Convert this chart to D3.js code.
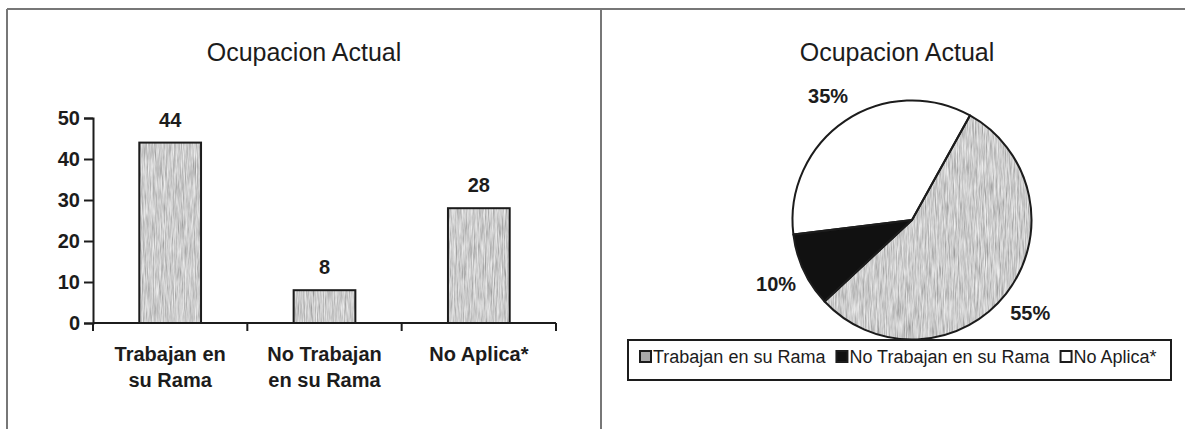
<!DOCTYPE html>
<html>
<head>
<meta charset="utf-8">
<script src="https://cdn.jsdelivr.net/npm/d3@7"></script>
<style>
  html, body { margin: 0; padding: 0; background: #fff; }
  svg { display: block; font-family: "Liberation Sans", Arial, sans-serif; }
</style>
</head>
<body>
<svg id="chart" width="1185" height="429"></svg>
<script>
// Ocupacion Actual: counts per category, shown as a bar chart and a pie chart
const title = "Ocupacion Actual";
const categories = ["Trabajan en su Rama", "No Trabajan en su Rama", "No Aplica*"];
const categoryLines = [["Trabajan en", "su Rama"], ["No Trabajan", "en su Rama"], ["No Aplica*"]];
const counts = [44, 8, 28];
const yTicks = [0, 10, 20, 30, 40, 50];

const svg = d3.select("#chart");
const ink = "#1c1c1c";

// grainy grey fill used for the "Trabajan en su Rama" marks
const defs = svg.append("defs");
const grain = defs.append("filter").attr("id", "grain")
  .attr("x", 0).attr("y", 0).attr("width", 1).attr("height", 1);
grain.append("feTurbulence").attr("type", "fractalNoise")
  .attr("baseFrequency", "0.9 0.05").attr("numOctaves", 3).attr("seed", 7).attr("result", "n");
grain.append("feColorMatrix").attr("in", "n").attr("type", "matrix")
  .attr("values", "0.75 0 0 0 0.23  0.75 0 0 0 0.23  0.75 0 0 0 0.23  0 0 0 0 1").attr("result", "g");
grain.append("feComposite").attr("in", "g").attr("in2", "SourceGraphic").attr("operator", "in");

// panel frame
const frame = svg.append("g").attr("stroke", "#777").attr("stroke-width", 2).attr("fill", "none");
frame.append("line").attr("x1", 7).attr("y1", 9).attr("x2", 1185).attr("y2", 9);
frame.append("line").attr("x1", 7).attr("y1", 9).attr("x2", 7).attr("y2", 429);
frame.append("line").attr("x1", 601).attr("y1", 9).attr("x2", 601).attr("y2", 429);

// ---------- bar chart ----------
const bar = svg.append("g");
bar.append("text").attr("x", 304).attr("y", 61).attr("text-anchor", "middle")
  .attr("font-size", 25).attr("fill", ink).text(title);

const x = d3.scaleBand().domain(categories).range([93, 556]).paddingInner(0.6).paddingOuter(0.3);
const y = d3.scaleLinear().domain([0, 50]).range([323, 118]);

bar.selectAll("rect.fill").data(counts).join("rect").attr("class", "fill")
  .attr("x", (d, i) => x(categories[i])).attr("width", x.bandwidth())
  .attr("y", d => y(d)).attr("height", d => y(0) - y(d))
  .attr("fill", "#aaa").attr("filter", "url(#grain)");
bar.selectAll("rect.edge").data(counts).join("rect").attr("class", "edge")
  .attr("x", (d, i) => x(categories[i])).attr("width", x.bandwidth())
  .attr("y", d => y(d)).attr("height", d => y(0) - y(d))
  .attr("fill", "none").attr("stroke", ink).attr("stroke-width", 2);

// y axis
const yAxis = bar.append("g").attr("transform", `translate(${x.range()[0]},0)`)
  .call(d3.axisLeft(y).tickValues(yTicks).tickSize(9).tickPadding(4));
yAxis.select(".domain").attr("stroke", ink).attr("stroke-width", 2);
yAxis.selectAll(".tick line").attr("stroke", ink).attr("stroke-width", 2);
yAxis.selectAll(".tick text").attr("font-size", 20).attr("font-weight", "bold")
  .attr("fill", ink).attr("font-family", "Liberation Sans, Arial, sans-serif");

// x axis: baseline with ticks on the category boundaries
const xAxis = bar.append("g").attr("stroke", ink).attr("stroke-width", 2);
xAxis.append("line").attr("x1", x.range()[0]).attr("x2", x.range()[1])
  .attr("y1", y(0)).attr("y2", y(0));
const bounds = d3.range(categories.length + 1).map(i => x.range()[0] + i * x.step());
xAxis.selectAll("line.tick").data(bounds).join("line").attr("class", "tick")
  .attr("x1", d => d).attr("x2", d => d).attr("y1", y(0)).attr("y2", y(0) + 8);

// category labels
bar.selectAll("text.cat").data(categoryLines).join("text").attr("class", "cat")
  .attr("x", (d, i) => x(categories[i]) + x.bandwidth() / 2).attr("y", 361)
  .attr("text-anchor", "middle").attr("font-size", 20).attr("font-weight", "bold").attr("fill", ink)
  .each(function(lines) {
    d3.select(this).selectAll("tspan").data(lines).join("tspan")
      .attr("x", d3.select(this).attr("x")).attr("dy", (l, j) => j ? 26 : 0).text(l => l);
  });

// value labels
bar.selectAll("text.val").data(counts).join("text").attr("class", "val")
  .attr("x", (d, i) => x(categories[i]) + x.bandwidth() / 2).attr("y", d => y(d) - 16)
  .attr("text-anchor", "middle").attr("font-size", 20).attr("font-weight", "bold").attr("fill", ink)
  .text(d => d);

// ---------- pie chart ----------
const pieG = svg.append("g");
pieG.append("text").attr("x", 897).attr("y", 61).attr("text-anchor", "middle")
  .attr("font-size", 25).attr("fill", ink).text(title);

const cx = 912, cy = 220, r = 119.5;
const total = d3.sum(counts);
const start = 29 * Math.PI / 180;
const pie = d3.pie().sort(null).startAngle(start).endAngle(start + 2 * Math.PI);
const arcs = pie(counts);
const arc = d3.arc().innerRadius(0).outerRadius(r);
const labelArc = d3.arc().innerRadius(150).outerRadius(150);
const sliceFill = ["#aaa", "#111", "#fff"];

const slices = pieG.append("g").attr("transform", `translate(${cx},${cy})`);
slices.selectAll("path.fill").data(arcs).join("path").attr("class", "fill")
  .attr("d", arc).attr("fill", (d, i) => sliceFill[i])
  .attr("filter", (d, i) => i === 0 ? "url(#grain)" : null);
slices.selectAll("path.edge").data(arcs).join("path").attr("class", "edge")
  .attr("d", arc).attr("fill", "none").attr("stroke", ink).attr("stroke-width", 2)
  .attr("stroke-linejoin", "round");

slices.selectAll("text.pct").data(arcs).join("text").attr("class", "pct")
  .attr("transform", d => `translate(${labelArc.centroid(d)})`)
  .attr("dy", "0.36em").attr("text-anchor", "middle")
  .attr("font-size", 20).attr("font-weight", "bold").attr("fill", ink)
  .text(d => Math.round(d.data / total * 100) + "%");

// legend
const legend = pieG.append("g");
legend.append("rect").attr("x", 628).attr("y", 340).attr("width", 543).attr("height", 40)
  .attr("fill", "#fff").attr("stroke", ink).attr("stroke-width", 2);
let lx = 640;
categories.forEach((c, i) => {
  legend.append("rect").attr("x", lx).attr("y", 351).attr("width", 11).attr("height", 11)
    .attr("fill", sliceFill[i]).attr("stroke", ink).attr("stroke-width", 2);
  const t = legend.append("text").attr("x", lx + 13).attr("y", 363)
    .attr("font-size", 18).attr("fill", ink).text(c);
  lx += 13 + t.node().getComputedTextLength() + 11;
});
</script>
</body>
</html>
